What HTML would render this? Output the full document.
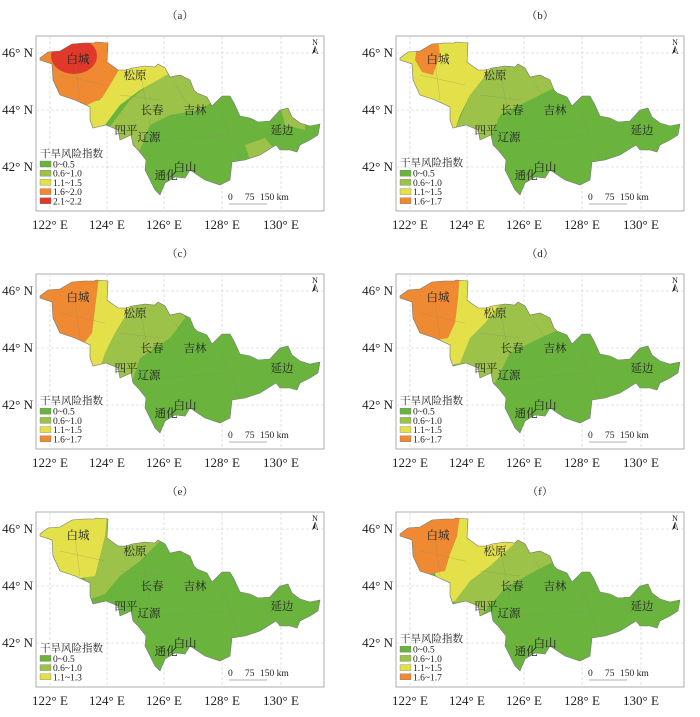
<!DOCTYPE html>
<html><head><meta charset="utf-8"><style>
body{margin:0;background:#fff}
text{font-family:"Liberation Serif","Noto Serif CJK SC",serif;fill:#222}
</style></head><body>
<svg id="s" width="700" height="712" viewBox="0 0 700 712" xmlns="http://www.w3.org/2000/svg"></svg>
<script>
const G="#6ab43e",LG="#9cc24a",Y="#e3e04a",O="#ef8a33",R="#e0392b";
const outline="40,58 48,52 60,51 72,44 84,43 94,43 96,42 108,43 107,62 118,70 126,70 132,68 145,66 155,67 158,64 165,68 170,77 180,75 190,80 194,90 197,93 207,97 212,106 222,96 230,96 234,103 240,116 250,118 258,122 270,121 280,110 288,108 292,117 300,123 310,126 320,124 318,135 310,140 300,145 297,152 290,150 280,150 276,145 268,150 260,155 245,160 232,162 230,180 220,185 205,180 190,170 185,178 175,177 165,183 160,195 155,190 150,180 145,170 146,160 138,150 133,145 131,135 120,140 118,130 106,125 93,128 90,120 90,107 75,100 60,95 53,80 52,64 40,60";
const P=[
{t:"a",x:0,y:0,leg:["0~0.5","0.6~1.0","1.1~1.5","1.6~2.0","2.1~2.2"],z:[
[LG,"100,140 130,100 165,70 205,65 215,100 200,110 170,115 150,125 140,150"],
[Y,"80,140 80,105 100,100 105,60 110,40 160,40 172,72 140,90 120,105 105,125"],
[O,"30,30 110,30 120,68 110,85 102,98 85,106 30,110"],
[LG,"280,105 305,115 305,130 285,125"],[LG,"245,145 265,138 275,150 250,160"],
[R,"e74,56,23,18"]]},
{t:"b",x:360,y:0,leg:["0~0.5","0.6~1.0","1.1~1.5","1.6~1.7"],z:[
[LG,"120,30 200,30 200,85 170,100 140,115 130,140 110,150 95,130 110,95 130,70"],
[Y,"30,30 120,30 130,70 110,95 100,115 95,130 80,130 30,120"],
[O,"58,40 78,40 80,55 73,75 62,72 55,60"]]},
{t:"c",x:0,y:238,leg:["0~0.5","0.6~1.0","1.1~1.5","1.6~1.7"],z:[
[LG,"125,30 170,30 185,80 170,100 140,120 130,150 110,160 100,130 105,115 115,95 130,70"],
[Y,"100,30 125,30 130,70 115,95 105,115 100,130 80,130 80,105 92,95 95,70"],
[O,"30,30 100,30 95,70 92,95 85,104 30,105"]]},
{t:"d",x:360,y:238,leg:["0~0.5","0.6~1.0","1.1~1.5","1.6~1.7"],z:[
[LG,"140,30 215,30 215,85 180,100 150,115 135,145 115,155 95,130 110,100 135,70"],
[Y,"100,30 140,30 145,60 125,85 110,100 100,125 80,130 80,100 95,85 98,60"],
[O,"30,30 100,30 98,60 95,85 88,100 60,105 30,100"]]},
{t:"e",x:0,y:476,leg:["0~0.5","0.6~1.0","1.1~1.3"],z:[
[LG,"108,30 160,30 160,65 140,85 120,100 105,118 85,125 85,100 100,80 105,60"],
[Y,"30,30 108,30 105,60 100,80 95,100 60,105 30,105"]]},
{t:"f",x:360,y:476,leg:["0~0.5","0.6~1.0","1.1~1.5","1.6~1.7"],z:[
[LG,"150,55 190,60 195,85 175,95 145,112 125,135 110,150 90,140 95,125 110,105 130,90"],
[Y,"101,30 120,30 150,55 155,67 130,90 110,105 95,125 80,130 75,95 90,78 97,60"],
[O,"30,30 101,30 97,60 90,78 85,95 60,100 30,97"]]}];
const cols=[G,LG,Y,O,R];
let h="";
const labs=[["白城",78,59],["松原",135,75],["长春",152,110],["吉林",195,110],["四平",126,130],["辽源",149,137],["延边",282,130],["白山",185,167],["通化",166,175]];
P.forEach((p,i)=>{
 h+=`<g transform="translate(${p.x},${p.y})">`;
 h+=`<text x="180" y="19" font-size="11" text-anchor="middle">（${p.t}）</text>`;
 h+=`<rect x="36" y="36" width="288" height="175" fill="#fff" stroke="#999" stroke-width="0.8"/>`;
 [50,107,164,222,281].forEach(x=>h+=`<line x1="${x}" y1="36" x2="${x}" y2="211" stroke="#ccc" stroke-dasharray="3,2" stroke-width="0.6"/>`);
 [53,110,167].forEach(y=>h+=`<line x1="36" y1="${y}" x2="324" y2="${y}" stroke="#ccc" stroke-dasharray="3,2" stroke-width="0.6"/>`);
 h+=`<clipPath id="c${i}"><polygon points="${outline}"/></clipPath>`;
 h+=`<polygon points="${outline}" fill="${G}"/><g clip-path="url(#c${i})">`;
 p.z.forEach(z=>{ if(z[1][0]=="e"){const a=z[1].slice(1).split(",");h+=`<ellipse cx="${a[0]}" cy="${a[1]}" rx="${a[2]}" ry="${a[3]}" fill="${z[0]}"/>`;}
  else h+=`<polygon points="${z[1]}" fill="${z[0]}"/>`;});
 h+=`<path d="M120,95 L160,100 M140,70 L150,125 M175,85 L200,120 M160,140 L230,135 M220,110 L240,160 M250,125 L275,140 M60,75 L105,85 M75,60 L80,100" stroke="#8a8a6a" stroke-width="0.4" fill="none" opacity="0.6"/>`;
 h+=`</g><polygon points="${outline}" fill="none" stroke="#777" stroke-width="0.6"/>`;
 labs.forEach(l=>h+=`<text x="${l[1]}" y="${l[2]+4}" font-size="11.5" text-anchor="middle">${l[0]}</text>`);
 const n=p.leg.length, ly=211-4-n*9.2;
 h+=`<text x="40" y="${ly-4}" font-size="10.5">干旱风险指数</text>`;
 p.leg.forEach((t,k)=>{const yy=ly+k*9.2;h+=`<rect x="40" y="${yy}" width="11" height="6" fill="${cols[k]}" stroke="#666" stroke-width="0.3"/><text x="53" y="${yy+6.5}" font-size="9.5">${t}</text>`;});
 h+=`<text x="228" y="200" font-size="9.5">0</text><text x="245" y="200" font-size="9.5">75</text><text x="260" y="200" font-size="9.5">150 km</text><line x1="229" y1="204" x2="267" y2="204" stroke="#666" stroke-width="0.6"/>`;
 h+=`<text x="315" y="45" font-size="8" text-anchor="middle">N</text><path d="M315,46 L312,54 L315,52 Z" fill="#222"/><path d="M315,46 L318,54 L315,52 Z" fill="#fff" stroke="#222" stroke-width="0.5"/>`;
 [["122° E",50],["124° E",107],["126° E",164],["128° E",222],["130° E",281]].forEach(a=>h+=`<text x="${a[1]}" y="229" font-size="13" text-anchor="middle">${a[0]}</text>`);
 [["46° N",57],["44° N",114],["42° N",171]].forEach(a=>h+=`<text x="33" y="${a[1]}" font-size="13" text-anchor="end">${a[0]}</text>`);
 h+=`</g>`;
});
document.getElementById("s").innerHTML=h;
</script>
</body></html>
